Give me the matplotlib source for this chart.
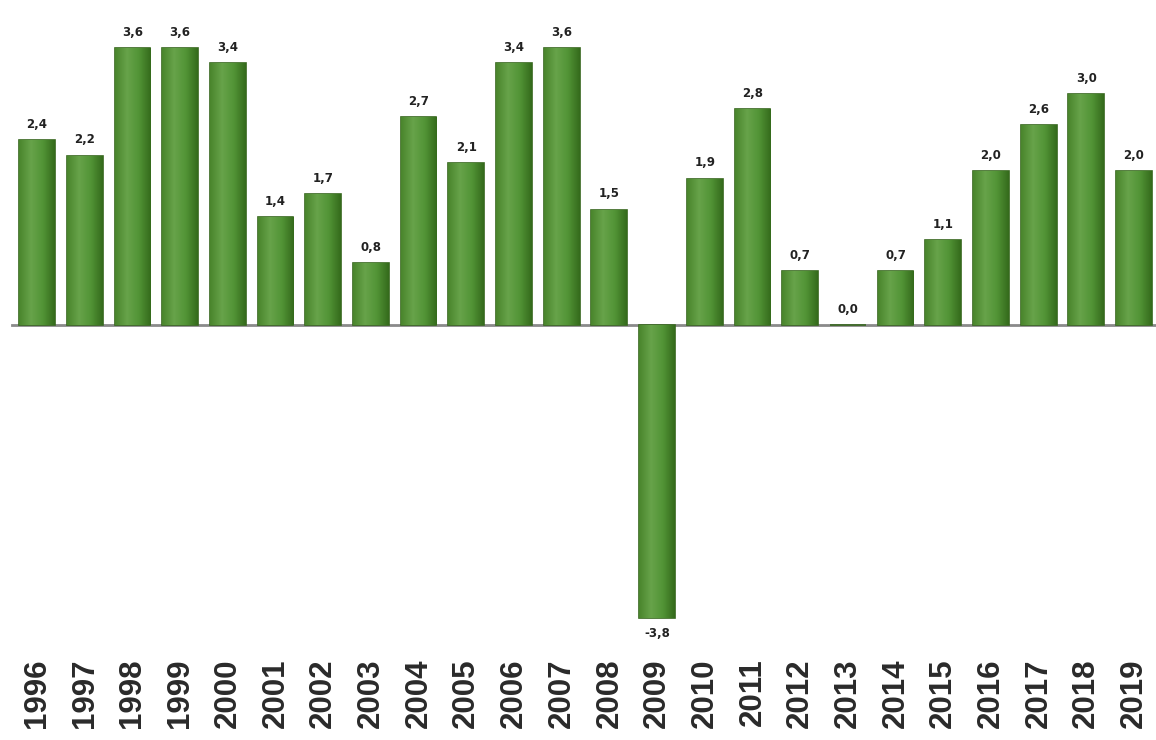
import numpy as np
import matplotlib
matplotlib.use("Agg")
import matplotlib.pyplot as plt

years = ["1996", "1997", "1998", "1999", "2000", "2001", "2002", "2003",
         "2004", "2005", "2006", "2007", "2008", "2009", "2010", "2011",
         "2012", "2013", "2014", "2015", "2016", "2017", "2018", "2019"]
growth = [2.4, 2.2, 3.6, 3.6, 3.4, 1.4, 1.7, 0.8, 2.7, 2.1, 3.4, 3.6,
          1.5, -3.8, 1.9, 2.8, 0.7, 0.0, 0.7, 1.1, 2.0, 2.6, 3.0, 2.0]

fig = plt.figure(figsize=(11.56, 7.40), dpi=100)
ax = fig.add_axes([0.0, 0.135, 1.0, 0.865])

x = np.arange(len(years))
bars = ax.bar(x, growth, width=0.75, color="#4f8f30", edgecolor="#36661d",
              linewidth=1.2, zorder=3)

# gradient fill clipped to each bar
grad = np.linspace(0, 1, 64).reshape(1, -1)
cmap = matplotlib.colors.LinearSegmentedColormap.from_list(
    "g", ["#4a852c", "#67a34a", "#529436", "#356b1c"])
for b in bars:
    if b.get_height() == 0:
        continue
    x0, y0 = b.get_x(), b.get_y()
    w, h = b.get_width(), b.get_height()
    im = ax.imshow(grad, cmap=cmap, aspect="auto", zorder=3.5,
                   extent=[x0, x0 + w, min(y0, y0 + h), max(y0, y0 + h)])
    im.set_clip_path(b)

ax.axhline(0, xmin=0.01, xmax=1.0, color="#8a8a8a", lw=2, zorder=2)

for xi, v in zip(x, growth):
    lbl = f"{v:.1f}".replace(".", ",")
    if v < 0:
        ax.text(xi, v - 0.12, lbl, ha="center", va="top", fontsize=8.5,
                fontweight="bold", color="#222222")
    else:
        ax.text(xi, v + 0.12, lbl, ha="center", va="bottom", fontsize=8.5,
                fontweight="bold", color="#222222")

ax.set_xlim(-0.776, 23.46)
ax.set_ylim(-4.09, 4.22)
ax.set_xticks(x)
ax.set_xticklabels(years, rotation=90, fontsize=22.5, fontweight="bold",
                   family=["Liberation Sans", "DejaVu Sans"],
                   color="#2a2a2a")
ax.tick_params(axis="x", length=0, pad=13)
ax.set_yticks([])
for s in ax.spines.values():
    s.set_visible(False)

fig.savefig("out.png", dpi=100)
